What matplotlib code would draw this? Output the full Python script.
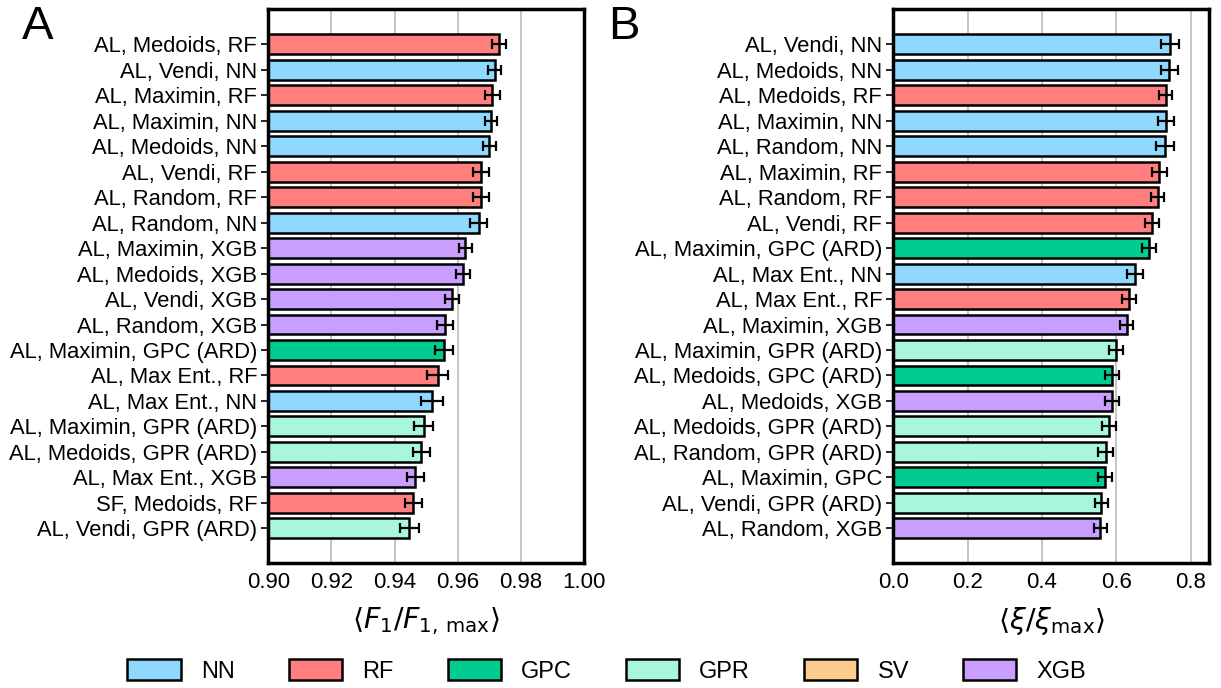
import matplotlib.pyplot as plt
from matplotlib.patches import Patch

plt.rcParams["font.family"] = ["Liberation Sans", "DejaVu Sans"]
plt.rcParams["mathtext.fontset"] = "dejavusans"

colors = {
    "NN": "#8FD9FF",
    "RF": "#FF7F7F",
    "GPC": "#00CC8F",
    "GPR": "#A8F7DC",
    "SV": "#FFCC8F",
    "XGB": "#C89FFF",
}

# panel A: F1 / F1,max
labels_a = [
    "AL, Medoids, RF", "AL, Vendi, NN", "AL, Maximin, RF", "AL, Maximin, NN",
    "AL, Medoids, NN", "AL, Vendi, RF", "AL, Random, RF", "AL, Random, NN",
    "AL, Maximin, XGB", "AL, Medoids, XGB", "AL, Vendi, XGB", "AL, Random, XGB",
    "AL, Maximin, GPC (ARD)", "AL, Max Ent., RF", "AL, Max Ent., NN",
    "AL, Maximin, GPR (ARD)", "AL, Medoids, GPR (ARD)", "AL, Max Ent., XGB",
    "SF, Medoids, RF", "AL, Vendi, GPR (ARD)",
]
models_a = ["RF", "NN", "RF", "NN", "NN", "RF", "RF", "NN", "XGB", "XGB",
            "XGB", "XGB", "GPC", "RF", "NN", "GPR", "GPR", "XGB", "RF", "GPR"]
values_a = [0.9730, 0.9717, 0.9710, 0.9706, 0.9700, 0.9674, 0.9673, 0.9666,
            0.9624, 0.9617, 0.9582, 0.9560, 0.9556, 0.9537, 0.9519, 0.9492,
            0.9485, 0.9466, 0.9459, 0.9447]
errors_a = [0.0022, 0.0021, 0.0023, 0.0020, 0.0021, 0.0026, 0.0026, 0.0027,
            0.0021, 0.0022, 0.0022, 0.0024, 0.0029, 0.0033, 0.0034, 0.0030,
            0.0027, 0.0028, 0.0027, 0.0031]

# panel B: xi / xi_max
labels_b = [
    "AL, Vendi, NN", "AL, Medoids, NN", "AL, Medoids, RF", "AL, Maximin, NN",
    "AL, Random, NN", "AL, Maximin, RF", "AL, Random, RF", "AL, Vendi, RF",
    "AL, Maximin, GPC (ARD)", "AL, Max Ent., NN", "AL, Max Ent., RF",
    "AL, Maximin, XGB", "AL, Maximin, GPR (ARD)", "AL, Medoids, GPC (ARD)",
    "AL, Medoids, XGB", "AL, Medoids, GPR (ARD)", "AL, Random, GPR (ARD)",
    "AL, Maximin, GPC", "AL, Vendi, GPR (ARD)", "AL, Random, XGB",
]
models_b = ["NN", "NN", "RF", "NN", "NN", "RF", "RF", "RF", "GPC", "NN",
            "RF", "XGB", "GPR", "GPC", "XGB", "GPR", "GPR", "GPC", "GPR", "XGB"]
values_b = [0.744, 0.742, 0.733, 0.733, 0.732, 0.716, 0.711, 0.697, 0.689,
            0.651, 0.633, 0.628, 0.599, 0.589, 0.588, 0.580, 0.571, 0.570,
            0.560, 0.557]
errors_b = [0.024, 0.023, 0.018, 0.022, 0.024, 0.019, 0.018, 0.019, 0.019,
            0.021, 0.019, 0.017, 0.019, 0.019, 0.018, 0.019, 0.019, 0.018,
            0.018, 0.018]

fig = plt.figure(figsize=(12.21, 6.88), dpi=100)
ax_a = fig.add_axes([0.2197, 0.1812, 0.2586, 0.8053])
ax_b = fig.add_axes([0.7316, 0.1812, 0.2588, 0.8053])


def draw_panel(ax, labels, models, values, errors, xlim, ticks, ticklabels, xlabel):
    y = list(range(len(labels)))
    ax.barh(y, [v - xlim[0] for v in values], left=xlim[0], height=0.78,
            color=[colors[m] for m in models], edgecolor="black",
            linewidth=1.8, zorder=2)
    ax.errorbar(values, y, xerr=errors, fmt="none", ecolor="black",
                elinewidth=1.6, capsize=3.5, capthick=1.6, zorder=3)
    ax.set_yticks(y)
    ax.set_yticklabels(labels, fontsize=15.8)
    ax.set_ylim(len(labels) - 1 + 1.375, -1.375)
    ax.set_xlim(*xlim)
    ax.set_xticks(ticks)
    ax.set_xticklabels(ticklabels, fontsize=16)
    ax.set_xlabel(xlabel, fontsize=20.5, labelpad=9)
    ax.grid(axis="x", color="#bbbbbb", linewidth=1.2, zorder=0)
    ax.set_axisbelow(True)
    ax.tick_params(axis="x", length=0, pad=6)
    ax.tick_params(axis="y", length=5, width=1.2, pad=3)
    for s in ax.spines.values():
        s.set_linewidth(2.5)


draw_panel(ax_a, labels_a, models_a, values_a, errors_a, (0.90, 1.00),
           [0.90, 0.92, 0.94, 0.96, 0.98, 1.00],
           ["0.90", "0.92", "0.94", "0.96", "0.98", "1.00"],
           r"$\langle F_1 / F_{1,\,\mathrm{max}} \rangle$")
draw_panel(ax_b, labels_b, models_b, values_b, errors_b, (0.0, 0.85),
           [0.0, 0.2, 0.4, 0.6, 0.8],
           ["0.0", "0.2", "0.4", "0.6", "0.8"],
           r"$\langle \xi / \xi_{\mathrm{max}} \rangle$")

fig.text(0.018, 0.993, "A", fontsize=34, va="top", ha="left")
fig.text(0.498, 0.993, "B", fontsize=34, va="top", ha="left")

handles = [Patch(facecolor=c, edgecolor="black", linewidth=1.8) for c in colors.values()]
fig.legend(handles, list(colors.keys()), loc="center", ncol=6,
           bbox_to_anchor=(0.497, 0.025), frameon=False, fontsize=17,
           handlelength=2.25, handleheight=1.0, columnspacing=2.3,
           handletextpad=0.85)

fig.savefig("out.png", dpi=100)
